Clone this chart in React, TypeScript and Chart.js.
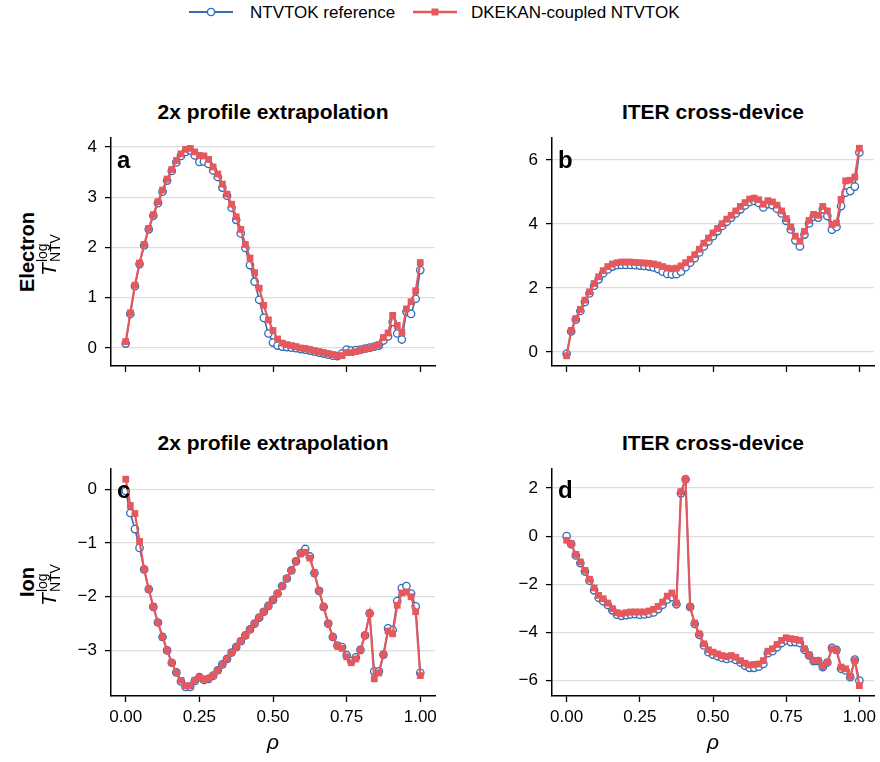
import React, { useEffect, useRef } from 'react';
import { Chart, registerables } from 'chart.js';

Chart.register(...registerables);

const FONT = "'Liberation Sans', Arial, sans-serif";

const RHO = [
  0, 0.0156, 0.0313, 0.0469, 0.0625, 0.0781, 0.0938, 0.1094, 0.125, 0.1406,
  0.1563, 0.1719, 0.1875, 0.2031, 0.2188, 0.2344, 0.25, 0.2656, 0.2813, 0.2969,
  0.3125, 0.3281, 0.3438, 0.3594, 0.375, 0.3906, 0.4063, 0.4219, 0.4375, 0.4531,
  0.4688, 0.4844, 0.5, 0.5156, 0.5313, 0.5469, 0.5625, 0.5781, 0.5938, 0.6094,
  0.625, 0.6406, 0.6563, 0.6719, 0.6875, 0.7031, 0.7188, 0.7344, 0.75, 0.7656,
  0.7813, 0.7969, 0.8125, 0.8281, 0.8438, 0.8594, 0.875, 0.8906, 0.9063, 0.9219,
  0.9375, 0.9531, 0.9688, 0.9844, 1,
];

// Electron, 2x profile extrapolation
const E2X_REF = [
  0.09, 0.68, 1.23, 1.67, 2.04, 2.36, 2.63, 2.88, 3.11, 3.33,
  3.52, 3.69, 3.82, 3.90, 3.93, 3.83, 3.70, 3.71, 3.66, 3.53,
  3.40, 3.19, 3.03, 2.79, 2.55, 2.28, 1.99, 1.65, 1.32, 0.96,
  0.60, 0.29, 0.11, 0.05, 0.03, 0.02, 0.01, 0.0, -0.02, -0.03,
  -0.05, -0.07, -0.09, -0.11, -0.13, -0.15, -0.16, -0.11, -0.03, -0.05,
  -0.04, -0.03, -0.01, 0.01, 0.03, 0.05, 0.15, 0.23, 0.52, 0.29,
  0.17, 0.72, 0.68, 0.98, 1.55,
];
const E2X_KAN = [
  0.13, 0.70, 1.25, 1.69, 2.06, 2.38, 2.65, 2.91, 3.14, 3.36,
  3.55, 3.73, 3.86, 3.95, 3.97, 3.90, 3.83, 3.82, 3.75, 3.60,
  3.46, 3.26, 3.06, 2.86, 2.61, 2.36, 2.06, 1.79, 1.50, 1.19,
  0.85, 0.56, 0.35, 0.18, 0.10, 0.07, 0.05, 0.03, 0.00, -0.01,
  -0.03, -0.05, -0.07, -0.09, -0.11, -0.13, -0.15, -0.15, -0.09, -0.09,
  -0.07, -0.04, -0.02, 0.00, 0.03, 0.07, 0.21, 0.30, 0.65, 0.45,
  0.31, 0.78, 0.92, 1.14, 1.70,
];

// Electron, ITER cross-device
const EITER_REF = [
  -0.06, 0.64, 1.01, 1.28, 1.56, 1.83, 2.07, 2.27, 2.46, 2.58,
  2.67, 2.71, 2.72, 2.72, 2.72, 2.71, 2.70, 2.69, 2.67, 2.64,
  2.59, 2.51, 2.44, 2.42, 2.43, 2.51, 2.65, 2.79, 2.93, 3.11,
  3.30, 3.46, 3.62, 3.78, 3.94, 4.07, 4.20, 4.33, 4.46, 4.58,
  4.69, 4.72, 4.66, 4.52, 4.62, 4.59, 4.48, 4.33, 4.10, 3.83,
  3.49, 3.30, 3.67, 4.02, 4.23, 4.20, 4.46, 4.25, 3.82, 3.91,
  4.56, 4.98, 5.03, 5.17, 6.24,
];
const EITER_KAN = [
  -0.12, 0.67, 1.04, 1.33, 1.62, 1.88, 2.14, 2.35, 2.54, 2.67,
  2.75, 2.79, 2.81, 2.81, 2.81, 2.80, 2.79, 2.78, 2.77, 2.75,
  2.72, 2.67, 2.62, 2.60, 2.62, 2.69, 2.79, 2.90, 3.04, 3.21,
  3.40, 3.56, 3.72, 3.86, 4.01, 4.15, 4.27, 4.41, 4.55, 4.67,
  4.78, 4.81, 4.76, 4.62, 4.73, 4.69, 4.59, 4.41, 4.17, 3.91,
  3.62, 3.46, 3.77, 4.11, 4.30, 4.27, 4.55, 4.41, 3.98, 4.03,
  4.77, 5.35, 5.37, 5.47, 6.37,
];

// Ion, 2x profile extrapolation
const I2X_REF = [
  -0.03, -0.44, -0.74, -1.09, -1.49, -1.86, -2.19, -2.48, -2.75, -3.00,
  -3.23, -3.41, -3.58, -3.68, -3.68, -3.57, -3.50, -3.55, -3.53, -3.47,
  -3.37, -3.26, -3.16, -3.04, -2.94, -2.83, -2.72, -2.61, -2.50, -2.39,
  -2.28, -2.17, -2.06, -1.94, -1.80, -1.66, -1.51, -1.34, -1.19, -1.11,
  -1.25, -1.56, -1.89, -2.19, -2.50, -2.75, -2.91, -2.94, -3.09, -3.20,
  -3.13, -2.99, -2.72, -2.31, -3.39, -3.39, -3.08, -2.59, -2.62, -2.08,
  -1.84, -1.80, -1.94, -2.18, -3.42,
];
const I2X_KAN = [
  0.19, -0.30, -0.45, -0.97, -1.49, -1.86, -2.19, -2.48, -2.75, -3.00,
  -3.23, -3.41, -3.56, -3.66, -3.66, -3.56, -3.50, -3.54, -3.53, -3.47,
  -3.37, -3.26, -3.16, -3.04, -2.94, -2.83, -2.72, -2.61, -2.50, -2.39,
  -2.28, -2.17, -2.06, -1.94, -1.80, -1.66, -1.51, -1.34, -1.20, -1.17,
  -1.28, -1.56, -1.89, -2.19, -2.50, -2.75, -2.92, -2.96, -3.12, -3.23,
  -3.16, -2.99, -2.72, -2.31, -3.53, -3.42, -3.08, -2.64, -2.69, -2.16,
  -1.93, -1.91, -2.00, -2.28, -3.47,
];

// Ion, ITER cross-device
const IITER_REF = [
  0.00, -0.33, -0.80, -1.12, -1.47, -1.85, -2.25, -2.56, -2.70, -2.86,
  -3.08, -3.26, -3.31, -3.28, -3.25, -3.24, -3.26, -3.25, -3.22, -3.17,
  -3.03, -2.85, -2.63, -2.53, -2.83, 1.78, 2.36, -2.94, -3.65, -4.10,
  -4.54, -4.82, -4.92, -4.99, -5.06, -5.10, -5.07, -5.14, -5.25, -5.38,
  -5.47, -5.47, -5.42, -5.31, -4.86, -4.78, -4.61, -4.44, -4.33, -4.40,
  -4.40, -4.44, -4.72, -4.95, -5.19, -5.19, -5.44, -5.25, -4.64, -4.72,
  -5.51, -5.58, -5.86, -5.13, -6.00,
];
const IITER_KAN = [
  -0.17, -0.31, -0.76, -1.07, -1.42, -1.79, -2.15, -2.46, -2.60, -2.78,
  -3.01, -3.18, -3.22, -3.18, -3.15, -3.15, -3.15, -3.15, -3.11, -3.04,
  -2.92, -2.74, -2.49, -2.36, -2.78, 1.85, 2.36, -2.94, -3.61, -4.06,
  -4.47, -4.72, -4.82, -4.89, -4.96, -5.00, -4.96, -5.03, -5.17, -5.28,
  -5.35, -5.33, -5.31, -5.17, -4.78, -4.68, -4.50, -4.33, -4.22, -4.26,
  -4.29, -4.33, -4.68, -4.93, -5.17, -5.17, -5.42, -5.24, -4.68, -4.75,
  -5.44, -5.51, -5.83, -5.17, -6.21,
];

const X_TICKS = [0, 0.25, 0.5, 0.75, 1];
const Y_TICKS_A = [0, 1, 2, 3, 4];
const Y_TICKS_B = [0, 2, 4, 6];
const Y_TICKS_C = [-3, -2, -1, 0];
const Y_TICKS_D = [-6, -4, -2, 0, 2];

const SERIES_LABELS = ['NTVTOK reference', 'DKEKAN-coupled NTVTOK'];
const COL_TITLES = ['2x profile extrapolation', 'ITER cross-device'];
const ROW_LABELS = ['Electron', 'Ion'];
const PANEL_LETTERS = ['a', 'b', 'c', 'd'];

const BLUE = '#2f6cb5';
const RED = '#e4585e';

type PanelProps = {
  left: number;
  top: number;
  width: number;
  height: number;
  yWidth: number;
  xHeight: number;
  padRight: number;
  refVals: number[];
  kanVals: number[];
  yTicks: number[];
  yMin: number;
  yMax: number;
  showX: boolean;
};

const fmtY = (v: number) => {
  const s = String(Math.round(v * 100) / 100);
  return s.replace('-', '\u2212');
};

const noPad = (s: any) => {
  s.paddingTop = 0;
  s.paddingBottom = 0;
  s.paddingLeft = 0;
  s.paddingRight = 0;
};

function Panel(p: PanelProps) {
  const cv = useRef<HTMLCanvasElement | null>(null);
  useEffect(() => {
    if (!cv.current) return;
    const chart = new Chart(cv.current, {
      type: 'line',
      data: {
        datasets: [
          {
            label: SERIES_LABELS[0],
            data: RHO.map((x, i) => ({ x, y: p.refVals[i] })),
            borderColor: BLUE,
            borderWidth: 1.6,
            pointStyle: 'circle',
            pointRadius: 3.7,
            pointBorderWidth: 1.3,
            pointBackgroundColor: '#ffffff',
            pointBorderColor: BLUE,
            tension: 0,
            order: 1,
          },
          {
            label: SERIES_LABELS[1],
            data: RHO.map((x, i) => ({ x, y: p.kanVals[i] })),
            borderColor: RED,
            borderWidth: 2.2,
            pointStyle: 'rect',
            pointRadius: 4.8,
            pointBorderWidth: 0,
            pointBackgroundColor: RED,
            pointBorderColor: RED,
            tension: 0,
            order: 0,
          },
        ],
      },
      options: {
        animation: false,
        responsive: false,
        devicePixelRatio: 1,
        events: [],
        layout: { padding: { top: 10, right: p.padRight, bottom: 0, left: 0 } },
        plugins: {
          legend: { display: false },
          tooltip: { enabled: false },
          title: { display: false },
        },
        scales: {
          x: {
            type: 'linear',
            min: -0.05,
            max: 1.05,
            afterBuildTicks: (s: any) => {
              s.ticks = X_TICKS.map((v) => ({ value: v }));
            },
            afterFit: (s: any) => {
              s.height = p.xHeight;
              noPad(s);
            },
            grid: {
              drawOnChartArea: false,
              drawTicks: true,
              tickLength: 6,
              tickWidth: 1.3,
              tickColor: '#000',
            },
            border: { display: true, color: '#000', width: 1.5 },
            ticks: {
              color: '#000',
              font: { size: 17, family: FONT },
              padding: 5,
              maxRotation: 0,
              autoSkip: false,
              callback: (v: any) => (p.showX ? Number(v).toFixed(2) : ''),
            },
          },
          y: {
            type: 'linear',
            min: p.yMin,
            max: p.yMax,
            afterBuildTicks: (s: any) => {
              s.ticks = p.yTicks.map((v) => ({ value: v }));
            },
            afterFit: (s: any) => {
              s.width = p.yWidth;
              noPad(s);
            },
            grid: {
              drawOnChartArea: true,
              color: '#dddddd',
              lineWidth: 1.2,
              drawTicks: true,
              tickLength: 6,
              tickWidth: 1.3,
              tickColor: '#000',
            },
            border: { display: true, color: '#000', width: 1.5 },
            ticks: {
              color: '#000',
              font: { size: 17, family: FONT },
              padding: 8,
              autoSkip: false,
              callback: (v: any) => fmtY(Number(v)),
            },
          },
        },
      },
    } as any);
    return () => chart.destroy();
  }, []);
  return (
    <canvas
      ref={cv}
      width={p.width}
      height={p.height}
      style={{ position: 'absolute', left: p.left, top: p.top, width: p.width, height: p.height }}
    />
  );
}

const txt = (
  left: number,
  baseline: number,
  fs: number,
  content: React.ReactNode,
  extra: React.CSSProperties = {},
  width = 0
) => {
  const top = baseline - 0.8465 * fs;
  return (
    <div
      style={{
        position: 'absolute',
        left: width ? left - width / 2 : left,
        top,
        width: width || undefined,
        textAlign: width ? 'center' : 'left',
        fontSize: fs,
        lineHeight: `${fs}px`,
        fontFamily: FONT,
        whiteSpace: 'nowrap',
        color: '#000',
        ...extra,
      }}
    >
      {content}
    </div>
  );
};

function RowLabel({ cy, name }: { cy: number; name: string }) {
  return (
    <>
      <div
        style={{
          position: 'absolute',
          left: 27,
          top: cy,
          transform: 'translate(-50%, -50%) rotate(-90deg)',
          fontFamily: FONT,
          fontWeight: 'bold',
          fontSize: 20,
          lineHeight: '20px',
          whiteSpace: 'nowrap',
          color: '#000',
        }}
      >
        {name}
      </div>
      <div
        style={{
          position: 'absolute',
          left: 48,
          top: cy + 3,
          transform: 'translate(-50%, -50%) rotate(-90deg)',
          fontFamily: FONT,
          whiteSpace: 'nowrap',
          color: '#000',
          display: 'flex',
          alignItems: 'center',
          lineHeight: 1,
        }}
      >
        <span style={{ fontStyle: 'italic', fontSize: 21 }}>T</span>
        <span
          style={{
            display: 'inline-flex',
            flexDirection: 'column',
            fontSize: 14,
            lineHeight: '13px',
            marginLeft: 1,
            marginTop: 2,
          }}
        >
          <span>log</span>
          <span>NTV</span>
        </span>
      </div>
    </>
  );
}

function LegendIcon({ left, kind }: { left: number; kind: 'circle' | 'rect' }) {
  return (
    <svg
      width={44}
      height={16}
      style={{ position: 'absolute', left, top: 4 }}
    >
      {kind === 'circle' ? (
        <>
          <line x1={0} y1={8} x2={44} y2={8} stroke={BLUE} strokeWidth={2.2} />
          <circle cx={22} cy={8} r={3.6} fill="#fff" stroke={BLUE} strokeWidth={1.4} />
        </>
      ) : (
        <>
          <line x1={0} y1={8} x2={44} y2={8} stroke={RED} strokeWidth={2.6} />
          <rect x={18.5} y={4.5} width={7} height={7} fill={RED} />
        </>
      )}
    </svg>
  );
}

export default function App() {
  return (
    <div
      style={{
        position: 'absolute',
        left: 0,
        top: 0,
        width: 880,
        height: 762,
        background: '#fff',
        overflow: 'hidden',
      }}
    >
      <LegendIcon left={189} kind="circle" />
      {txt(250, 18, 17, SERIES_LABELS[0])}
      <LegendIcon left={413} kind="rect" />
      {txt(471, 18, 17, SERIES_LABELS[1])}

      {txt(273, 119, 21, COL_TITLES[0], { fontWeight: 'bold' }, 400)}
      {txt(713, 119, 21, COL_TITLES[1], { fontWeight: 'bold' }, 400)}
      {txt(273, 450, 21, COL_TITLES[0], { fontWeight: 'bold' }, 400)}
      {txt(713, 450, 21, COL_TITLES[1], { fontWeight: 'bold' }, 400)}

      <Panel left={50} top={128} width={400} height={250} yWidth={61} xHeight={12} padRight={15}
        refVals={E2X_REF} kanVals={E2X_KAN} yTicks={Y_TICKS_A} yMin={-0.356} yMax={4.176} showX={false} />
      <Panel left={490} top={128} width={390} height={250} yWidth={62} xHeight={12} padRight={6}
        refVals={EITER_REF} kanVals={EITER_KAN} yTicks={Y_TICKS_B} yMin={-0.44} yMax={6.69} showX={false} />
      <Panel left={50} top={459} width={400} height={277} yWidth={61} xHeight={40} padRight={15}
        refVals={I2X_REF} kanVals={I2X_KAN} yTicks={Y_TICKS_C} yMin={-3.85} yMax={0.38} showX={true} />
      <Panel left={490} top={459} width={390} height={277} yWidth={62} xHeight={40} padRight={6}
        refVals={IITER_REF} kanVals={IITER_KAN} yTicks={Y_TICKS_D} yMin={-6.64} yMax={2.79} showX={true} />

      {txt(117, 168, 24, PANEL_LETTERS[0], { fontWeight: 'bold' })}
      {txt(558, 168, 24, PANEL_LETTERS[1], { fontWeight: 'bold' })}
      {txt(117, 498, 24, PANEL_LETTERS[2], { fontWeight: 'bold' })}
      {txt(558, 498, 24, PANEL_LETTERS[3], { fontWeight: 'bold' })}

      <RowLabel cy={252} name={ROW_LABELS[0]} />
      <RowLabel cy={582} name={ROW_LABELS[1]} />

      {txt(273, 749, 21, '\u03c1', { fontStyle: 'italic' }, 60)}
      {txt(713, 749, 21, '\u03c1', { fontStyle: 'italic' }, 60)}
    </div>
  );
}
